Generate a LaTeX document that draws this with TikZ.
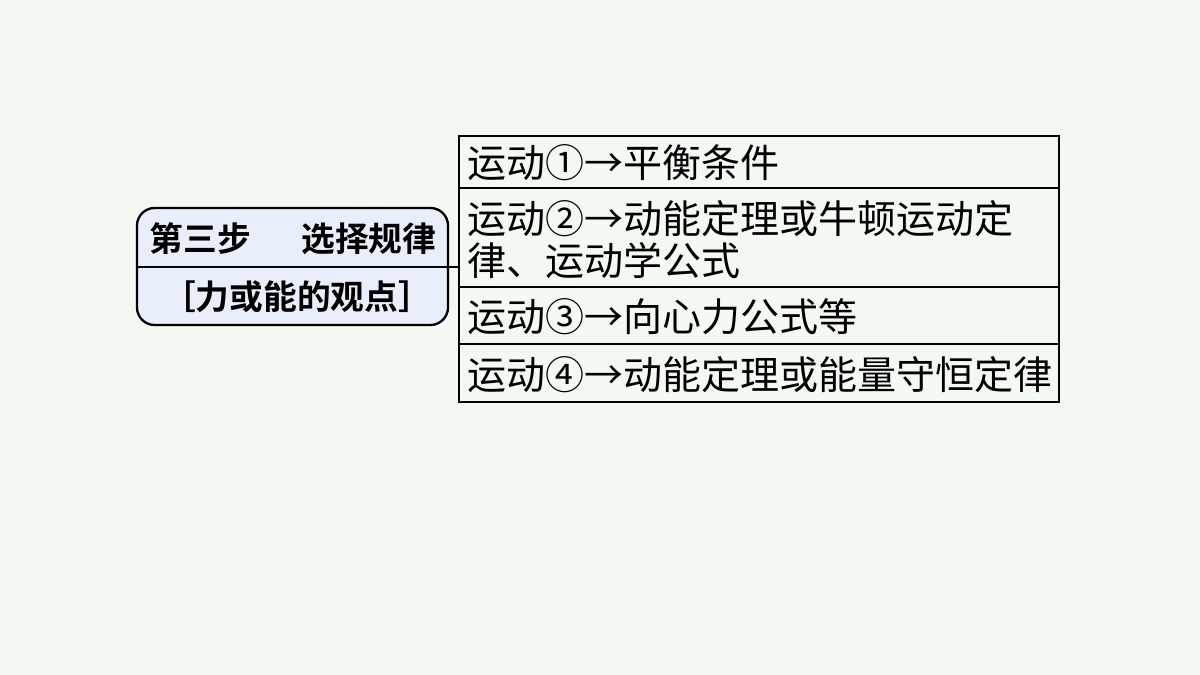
\documentclass[tikz,border=0pt]{standalone}
\usepackage{fontspec}
\setmainfont{Noto Sans CJK SC}
\newfontfamily\cjkb{Noto Sans CJK SC Bold}
\definecolor{bgc}{HTML}{F3F8F2}
\definecolor{boxc}{HTML}{E9EFFA}
\definecolor{tabc}{HTML}{F5F9F4}
\tikzset{
  rowtext/.style={anchor=west, inner sep=0pt, font=\fontsize{22.2pt}{24pt}\selectfont, align=left},
  headtext/.style={anchor=center, inner sep=0pt, font=\cjkb\fontsize{19.2pt}{22pt}\selectfont},
  frame/.style={line width=1.3pt, draw=black}
}
\begin{document}
\begin{tikzpicture}[x=0.02cm,y=-0.02cm]
\fill[bgc] (0,0) rectangle (1200,675);
\useasboundingbox (0,0) rectangle (1200,675);
% left box
\draw[frame, fill=boxc, rounded corners=10] (137,208) rectangle (448,325);
\coordinate (lm) at (137,267);
\coordinate (rm) at (448,267);
\draw[frame] (lm) -- (rm);
\node[headtext] (h1) at (293,239) {第三步\hspace{1.5em}选择规律};
\node[headtext] (h2) at (297,297) {［力或能的观点］};
% table
\draw[frame, fill=tabc] (459,136) rectangle (1059,402);
\coordinate (t1l) at (459,188); \coordinate (t1r) at (1059,188);
\coordinate (t2l) at (459,287); \coordinate (t2r) at (1059,287);
\coordinate (t3l) at (459,344); \coordinate (t3r) at (1059,344);
\draw[frame] (t1l) -- (t1r);
\draw[frame] (t2l) -- (t2r);
\draw[frame] (t3l) -- (t3r);
\coordinate (tl) at (459,267);
\draw[frame] (rm) -- (tl);
\node[rowtext] (r1) at (467,163) {运动①→平衡条件};
\node[rowtext] (r2) at (467,240) {运动②→动能定理或牛顿运动定\\律、运动学公式};
\node[rowtext] (r3) at (467,317) {运动③→向心力公式等};
\node[rowtext] (r4) at (467,375) {运动④→动能定理或能量守恒定律};
\end{tikzpicture}
\end{document}
